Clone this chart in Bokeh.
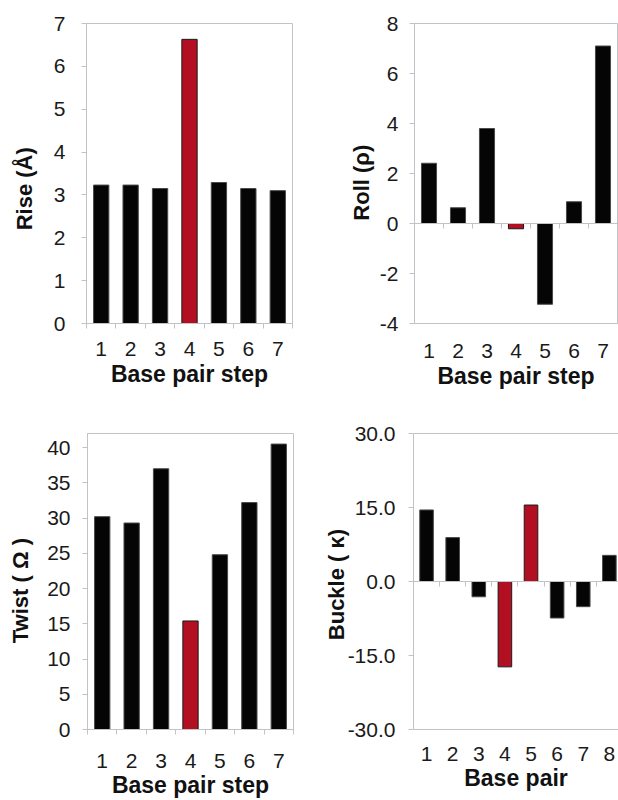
from bokeh.plotting import figure
from bokeh.models import FixedTicker, LinearAxis, Range1d, PrintfTickFormatter, ColumnDataSource
from bokeh.layouts import row, column
from bokeh.embed import file_html
from bokeh.resources import INLINE

# ---- data ----
steps = [1, 2, 3, 4, 5, 6, 7]
pairs = [1, 2, 3, 4, 5, 6, 7, 8]
rise = [3.23, 3.23, 3.15, 6.63, 3.29, 3.15, 3.10]
roll = [2.41, 0.63, 3.80, -0.21, -3.23, 0.87, 7.10]
twist = [30.2, 29.3, 37.0, 15.4, 24.8, 32.2, 40.5]
buckle = [14.5, 8.9, -3.1, -17.3, 15.5, -7.4, -5.1, 5.3]
rise_hl = [0, 0, 0, 1, 0, 0, 0]
roll_hl = [0, 0, 0, 1, 0, 0, 0]
twist_hl = [0, 0, 0, 1, 0, 0, 0]
buckle_hl = [0, 0, 0, 1, 1, 0, 0, 0]
rise_ticks = [0, 1, 2, 3, 4, 5, 6, 7]
roll_ticks = [-4, -2, 0, 2, 4, 6, 8]
twist_ticks = [0, 5, 10, 15, 20, 25, 30, 35, 40]
buckle_ticks = [-30, -15, 0, 15, 30]

GRAY = "#c0c4c8"
BLACK = "#050505"
RED = "#b30f22"
FONT = "Liberation Sans"
NB = "\u00a0"


def panel(cats, vals, hl, yticks, yrange, xend, ylabel, xlabel, fmt, width, height,
          bl, br, bt, bb, y_std, y_lstd, x_std, x_lstd, zero_axis, full_outline, pad):
    n = len(cats)
    p = figure(width=width, height=height, output_backend="svg", toolbar_location=None,
               x_range=Range1d(0.5, n + xend), y_range=Range1d(*yrange),
               min_border_left=bl, min_border_right=br, min_border_top=bt, min_border_bottom=bb,
               background_fill_color="white", border_fill_color="white")
    p.xgrid.visible = False
    p.ygrid.visible = False
    p.outline_line_color = GRAY if full_outline else None

    src = ColumnDataSource(dict(
        x=cats, top=vals,
        fill=[RED if h else BLACK for h in hl],
        line=["#1a1a1a" if h else "#4a4a4a" for h in hl],
    ))
    p.vbar(x="x", top="top", bottom=0, width=0.52, source=src,
           fill_color="fill", line_color="line", line_width=1)

    bounds = [c - 0.5 for c in cats] + [cats[-1] + 0.5]

    # y axis
    ya = p.yaxis[0]
    ya.ticker = FixedTicker(ticks=yticks, minor_ticks=[])
    ya.formatter = PrintfTickFormatter(format=fmt)
    ya.axis_line_color = GRAY
    ya.major_tick_line_color = GRAY
    ya.major_tick_out = 5
    ya.major_tick_in = 0
    ya.minor_tick_line_color = None
    ya.major_label_text_font = FONT
    ya.major_label_text_font_size = "21px"
    ya.major_label_text_color = "#1a1a1a"
    ya.major_label_standoff = y_std
    ya.axis_label = ylabel + NB * pad
    ya.axis_label_text_font = FONT
    ya.axis_label_text_font_size = "22px"
    ya.axis_label_text_font_style = "bold"
    ya.axis_label_text_color = "#111111"
    ya.axis_label_standoff = y_lstd

    # x axis (labels at bottom)
    xa = p.xaxis[0]
    xa.ticker = FixedTicker(ticks=cats, minor_ticks=[] if zero_axis else bounds)
    xa.formatter = PrintfTickFormatter(format="%d")
    xa.axis_line_color = GRAY
    xa.major_tick_out = 0
    xa.major_tick_in = 0
    xa.major_tick_line_color = None
    xa.minor_tick_out = 5
    xa.minor_tick_in = 0
    xa.minor_tick_line_color = GRAY
    xa.major_label_text_font = FONT
    xa.major_label_text_font_size = "21px"
    xa.major_label_text_color = "#1a1a1a"
    xa.major_label_standoff = x_std
    xa.axis_label = xlabel
    xa.axis_label_text_font = FONT
    xa.axis_label_text_font_size = "23px"
    xa.axis_label_text_font_style = "bold"
    xa.axis_label_text_color = "#111111"
    xa.axis_label_standoff = x_lstd

    if zero_axis:
        za = LinearAxis(fixed_location=0, ticker=FixedTicker(ticks=[], minor_ticks=bounds))
        za.axis_line_color = GRAY
        za.minor_tick_out = 5
        za.minor_tick_in = 0
        za.minor_tick_line_color = GRAY
        za.major_tick_line_color = None
        za.major_label_text_font_size = "0px"
        p.add_layout(za, "below")

    if not full_outline:
        ta = LinearAxis(ticker=FixedTicker(ticks=[], minor_ticks=[]))
        ta.axis_line_color = GRAY
        ta.major_tick_line_color = None
        ta.minor_tick_line_color = None
        ta.major_label_text_font_size = "0px"
        ta.major_label_standoff = 0
        p.add_layout(ta, "above")
    return p


p1 = panel(steps, rise, rise_hl, rise_ticks, (0, 7), 0.5, "Rise (Å)", "Base pair step", "%d",
           309, 400, 86, 17, 23, 75, 16, 14, 13, 2, False, True, 5)
p2 = panel(steps, roll, roll_hl, roll_ticks, (-4, 8), 0.5, "Roll (ρ)", "Base pair step", "%d",
           309, 400, 105, 1, 23, 77, 11, 3, 20, 2, True, True, 3)
p3 = panel(steps, twist, twist_hl, twist_ticks, (0, 42), 0.5, "Twist ( Ω )", "Base pair step", "%d",
           309, 400, 87, 16, 32, 70, 12, 11, 19, 1, False, True, 3)
p4 = panel(pairs, buckle, buckle_hl, buckle_ticks, (-30, 30), 0.35, "Buckle ( κ)", "Base pair", "%.1f",
           309, 400, 104, 0, 33, 68, 13, -4, 17, 1, True, False, 1)

layout = column(row(p1, p2), row(p3, p4))
open("out.html", "w").write(file_html(layout, INLINE))
